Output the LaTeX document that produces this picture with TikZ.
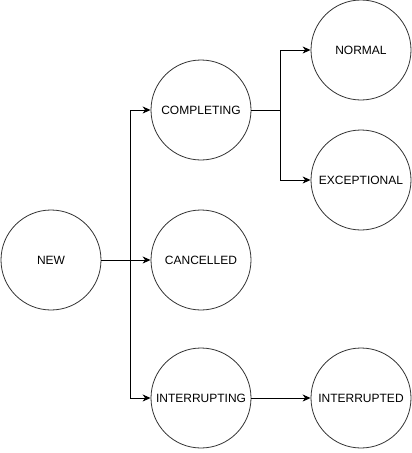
\documentclass[tikz,border=0pt]{standalone}
\usepackage{fontspec}
\setmainfont{Liberation Sans}
\usetikzlibrary{arrows.meta}
\begin{document}
\begin{tikzpicture}[x=1pt,y=-1pt,
  state/.style={draw=black!80,line width=0.8pt,circle,minimum size=100pt,inner sep=0pt,font=\fontsize{12pt}{14pt}\selectfont},
  arr/.style={draw,line width=0.9pt,-{Stealth[length=8pt,width=7pt,inset=2.5pt]}}]
\useasboundingbox (0,0) rectangle (412,453);
\node[state] (new) at (51,260) {NEW};
\node[state] (completing) at (201,110) {COMPLETING};
\node[state] (cancelled) at (201,260) {CANCELLED};
\node[state] (interrupting) at (201,398) {INTERRUPTING};
\node[state] (normal) at (361,50) {NORMAL};
\node[state] (exceptional) at (361,180) {EXCEPTIONAL};
\node[state] (interrupted) at (361,398) {INTERRUPTED};
\coordinate (b1) at (130,260);
\coordinate (b2) at (280,110);
\draw[arr] (new.east) -- (b1) |- (completing.west);
\draw[arr] (new.east) -- (cancelled.west);
\draw[arr] (b1) |- (interrupting.west);
\draw[arr] (completing.east) -- (b2) |- (normal.west);
\draw[arr] (b2) |- (exceptional.west);
\draw[arr] (interrupting.east) -- (interrupted.west);
\end{tikzpicture}
\end{document}
